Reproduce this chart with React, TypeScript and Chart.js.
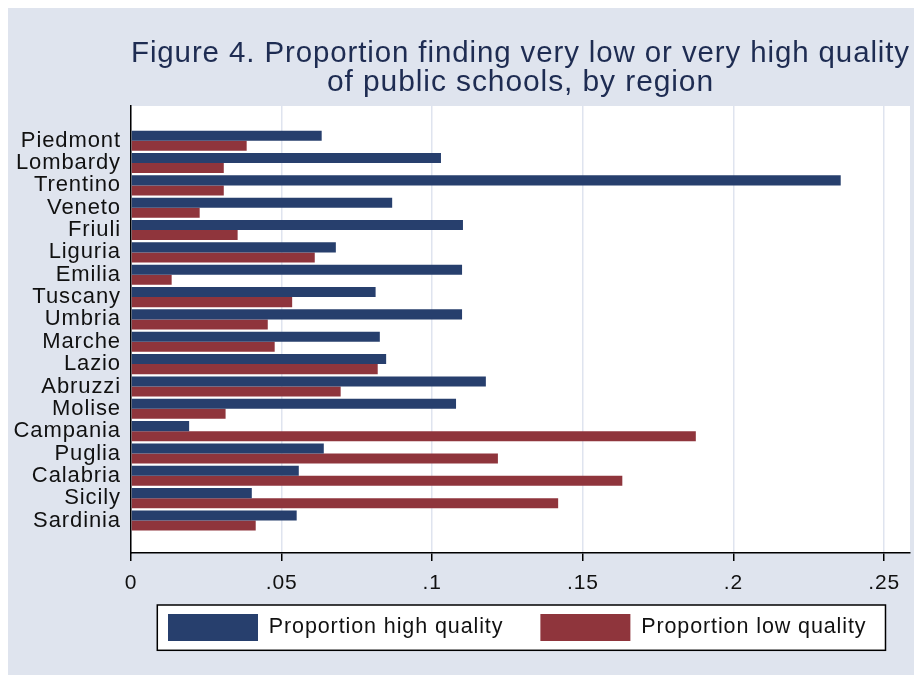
import React, { useEffect, useRef } from 'react';
import { Chart, registerables } from 'chart.js';

Chart.register(...registerables);

const regions = [
  'Piedmont', 'Lombardy', 'Trentino', 'Veneto', 'Friuli', 'Liguria', 'Emilia', 'Tuscany', 'Umbria',
  'Marche', 'Lazio', 'Abruzzi', 'Molise', 'Campania', 'Puglia', 'Calabria', 'Sicily', 'Sardinia',
];
const highQuality = [
  0.0633, 0.1029, 0.2356, 0.0867, 0.1102, 0.068, 0.1099, 0.0812, 0.1099,
  0.0826, 0.0847, 0.1178, 0.1079, 0.0193, 0.064, 0.0557, 0.0401, 0.055,
];
const lowQuality = [
  0.0384, 0.0308, 0.0308, 0.0228, 0.0354, 0.061, 0.0135, 0.0535, 0.0454,
  0.0477, 0.0819, 0.0696, 0.0314, 0.1875, 0.1218, 0.1631, 0.1418, 0.0414,
];
const xTickLabels = ['0', '.05', '.1', '.15', '.2', '.25'];
const titleLines = [
  'Figure 4. Proportion finding very low or very high quality',
  'of public schools, by region',
];
const seriesNames = ['Proportion high quality', 'Proportion low quality'];

const FONT = '"Liberation Sans", Arial, Helvetica, sans-serif';
const NAVY = '#273f6d';
const MAROON = '#8f353c';
const BG = '#dfe4ee';
const GRID = '#dfe4ef';

const spacingPlugin = {
  id: 'spacing',
  beforeLayout(chart: any) {
    chart.ctx.letterSpacing = '0.9px';
  },
  beforeDraw(chart: any) {
    const ctx = chart.ctx;
    ctx.letterSpacing = '0.9px';
    const a = chart.chartArea;
    ctx.save();
    ctx.fillStyle = '#ffffff';
    ctx.fillRect(a.left, a.top, a.right - a.left, a.bottom - a.top);
    const lg = chart.legend;
    if (lg && lg.legendHitBoxes && lg.legendHitBoxes.length) {
      const hb = lg.legendHitBoxes;
      const first = hb[0];
      const last = hb[hb.length - 1];
      const pad = lg.options.labels.padding;
      const swTop = lg.top + pad;
      const x0 = first.left - 10.7;
      const x1 = last.left + last.width + 19;
      const y0 = swTop - 9;
      const y1 = swTop + 27 + 9.3;
      ctx.fillStyle = '#ffffff';
      ctx.fillRect(x0, y0, x1 - x0, y1 - y0);
      ctx.strokeStyle = '#000000';
      ctx.lineWidth = 1.5;
      ctx.strokeRect(x0, y0, x1 - x0, y1 - y0);
    }
    ctx.restore();
  },
};

export default function App() {
  const ref = useRef<HTMLCanvasElement>(null);

  useEffect(() => {
    if (!ref.current) return;
    const chart = new Chart(ref.current, {
      type: 'bar',
      data: {
        datasets: [
          {
            label: seriesNames[0],
            data: highQuality.map((v, i) => ({ x: v, y: i })),
            backgroundColor: NAVY,
            borderWidth: 0,
          },
          {
            label: seriesNames[1],
            data: lowQuality.map((v, i) => ({ x: v, y: i })),
            backgroundColor: MAROON,
            borderWidth: 0,
          },
        ],
      },
      plugins: [spacingPlugin],
      options: {
        indexAxis: 'y',
        animation: false,
        responsive: false,
        devicePixelRatio: 1,
        categoryPercentage: 0.9,
        barPercentage: 1.0,
        layout: { padding: { left: 0, right: 12, top: 0, bottom: 24 } },
        scales: {
          x: {
            type: 'linear',
            min: 0,
            max: 0.2586,
            afterFit: (s: any) => {
              s.height = 24;
              s._computeLabelArea = () => undefined;
            },
            border: { display: true, color: '#000', width: 1.5 },
            grid: {
              color: GRID,
              lineWidth: 1.5,
              drawTicks: true,
              tickLength: 8,
              tickColor: '#000',
              tickWidth: 1.5,
            },
            ticks: {
              stepSize: 0.05,
              includeBounds: false,
              padding: 10,
              color: '#111',
              font: { family: FONT, size: 21 },
              maxRotation: 0,
              callback: (_v: any, i: number) => xTickLabels[i],
            },
          },
          y: {
            type: 'linear',
            reverse: true,
            offset: false,
            min: -1.553,
            max: 18.455,
            afterFit: (s: any) => { s.width = 123; },
            afterBuildTicks: (s: any) => { s.ticks = regions.map((_, i) => ({ value: i })); },
            border: { display: true, color: '#000', width: 1.5 },
            grid: { display: false, offset: false, drawTicks: false, tickLength: 0 },
            ticks: {
              autoSkip: false,
              padding: 10,
              color: '#111',
              font: { family: FONT, size: 22 },
              callback: (v: any) => regions[v],
            },
          },
        },
        plugins: {
          tooltip: { enabled: false },
          title: {
            display: true,
            fullSize: false,
            text: titleLines,
            color: '#1e2c52',
            font: { family: FONT, size: 30, weight: 'normal', lineHeight: 29.4 / 30 },
            padding: { top: 31.1, bottom: 8.1 },
          },
          legend: {
            display: true,
            fullSize: false,
            position: 'bottom',
            align: 'start',
            labels: {
              boxWidth: 90,
              boxHeight: 27,
              padding: 37,
              color: '#111',
              font: { family: FONT, size: 21.5 },
            },
          },
        },
      },
    } as any);
    return () => chart.destroy();
  }, []);

  return (
    <div style={{ width: 914, height: 667 }}>
      <canvas
        ref={ref}
        width={914}
        height={667}
        style={{ display: 'block', width: 914, height: 667, background: BG }}
      />
    </div>
  );
}
